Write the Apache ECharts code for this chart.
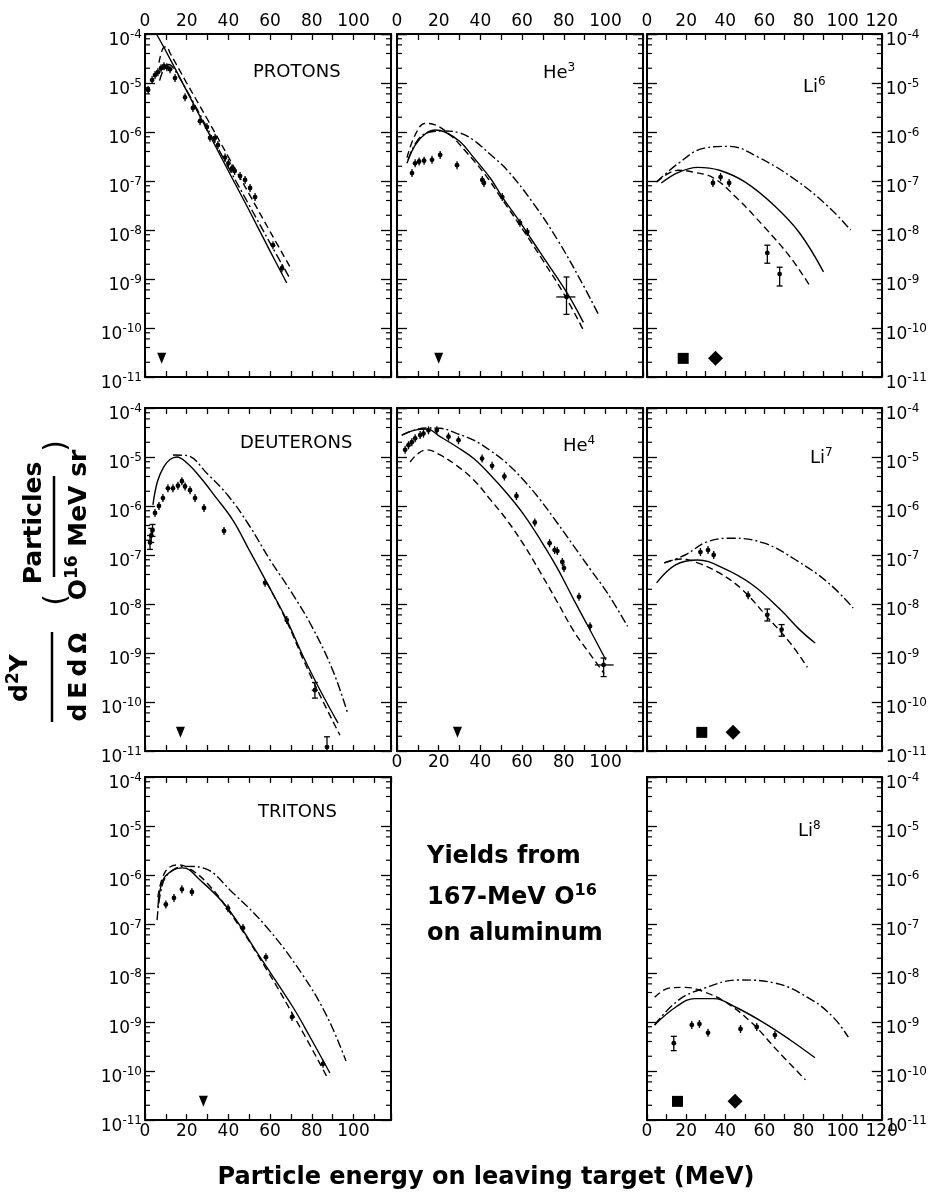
<!DOCTYPE html>
<html>
<head>
<meta charset="utf-8">
<title>Yields from 167-MeV O16 on aluminum</title>
<script src="https://cdn.jsdelivr.net/npm/echarts@6.0.0/dist/echarts.min.js"></script>
<style>
  html, body { margin: 0; padding: 0; background: #fff; }
  #chart { width: 930px; height: 1194px; }
</style>
</head>
<body>
<div id="chart"></div>
<script>
// values: [energy MeV, d2Y/dEdO]
// points may carry [E, y, yLow, yHigh, eLow, eHigh] when the bars are readable

var protonsSolid = [[5.5, 1.0e-4], [10, 4.5e-5], [20, 6.9e-6], [30, 1.05e-6], [40, 1.6e-7], [50, 2.5e-8], [60, 3.7e-9], [68, 8.3e-10]]
var protonsDashed = [[6.7, 2.6e-5], [8.6, 5.1e-5], [10.3, 5.5e-5], [12, 4.1e-5], [20, 1.0e-5], [30, 1.8e-6], [40, 3.1e-7], [50, 5.4e-8], [60, 9.3e-9], [70.5, 1.5e-9]]
var protonsDashDot = [[7, 1.12e-5], [9, 1.9e-5], [11.5, 2.4e-5], [14, 1.9e-5], [20, 7.1e-6], [30, 1.17e-6], [40, 1.9e-7], [50, 3.2e-8], [60, 5.4e-9], [69, 1.12e-9]]
var protonsPoints = [[1.5, 7.2e-6], [3.4, 1.15e-5], [4.8, 1.45e-5], [6.2, 1.66e-5], [7.7, 2.0e-5], [9.1, 2.2e-5], [10.5, 2.1e-5], [12, 1.9e-5], [14.4, 1.26e-5], [19.2, 5.1e-6], [23, 3.1e-6], [26.4, 1.66e-6], [29.7, 1.26e-6], [31.2, 7.6e-7], [33.6, 7.6e-7], [35, 5.4e-7], [38.4, 3.0e-7], [40, 2.3e-7], [41.7, 1.8e-7], [43, 1.6e-7], [45.6, 1.26e-7], [48, 1.05e-7], [50.4, 7.2e-8], [52.8, 4.7e-8], [61.4, 4.9e-9], [65.7, 1.66e-9]]
var protonsMarks = [[8, 2.4e-11, 'tri']]

var he3Solid = [[4.8, 2.3e-7], [8.7, 5.4e-7], [13.5, 9.1e-7], [18.3, 1.1e-6], [23, 1.0e-6], [30.3, 6.3e-7], [36.5, 3.1e-7], [44.7, 1.15e-7], [50.5, 4.7e-8], [59, 1.45e-8], [68.8, 3.4e-9], [81.7, 5.1e-10], [89.4, 1.3e-10]]
var he3Dashed = [[4.8, 3.0e-7], [8.7, 8.7e-7], [13.5, 1.5e-6], [18.3, 1.4e-6], [25.5, 8.7e-7], [33, 4.0e-7], [42, 1.4e-7], [50, 4.5e-8], [60, 1.07e-8], [70, 2.4e-9], [80, 5.0e-10], [89.4, 9.1e-11]]
var he3DashDot = [[5.3, 2.7e-7], [10, 6.9e-7], [15.9, 1.0e-6], [23, 1.05e-6], [30.3, 9.5e-7], [36.5, 6.9e-7], [44.7, 3.5e-7], [52.9, 1.66e-7], [65.4, 3.5e-8], [77, 6.3e-9], [88, 9.5e-10], [96.6, 1.9e-10]]
var he3Points = [[7.2, 1.45e-7], [8.7, 2.3e-7], [10.6, 2.5e-7], [13, 2.6e-7], [16.8, 2.7e-7], [20.7, 3.4e-7], [28.8, 2.1e-7], [40.9, 1.05e-7], [41.7, 9.1e-8], [50.5, 4.7e-8], [59, 1.4e-8], [62.5, 9.1e-9], [81.3, 4.3e-10, 1.9e-10, 1.1e-9, 76.4, 85.6]]
var he3Marks = [[20, 2.4e-11, 'tri']]

var li6Solid = [[7.3, 9.1e-8], [16.1, 1.5e-7], [25.9, 1.9e-7], [37, 1.66e-7], [50.2, 9.5e-8], [64.9, 3.2e-8], [78, 8.7e-9], [90.2, 1.4e-9]]
var li6Dashed = [[4.9, 9.5e-8], [16.1, 1.66e-7], [24.4, 1.5e-7], [34.1, 1.15e-7], [45.4, 4.7e-8], [60, 1.15e-8], [73.2, 2.8e-9], [82.9, 7.6e-10]]
var li6DashDot = [[4.9, 9.5e-8], [16.1, 2.3e-7], [29.3, 4.7e-7], [42, 5.1e-7], [56.6, 3.1e-7], [76, 1.05e-7], [92.7, 3.0e-8], [104, 1.0e-8]]
var li6Points = [[33.7, 9.1e-8], [37.6, 1.2e-7], [42, 9.1e-8], [61.5, 3.4e-9, 2.1e-9, 4.9e-9], [67.8, 1.26e-9, 7.2e-10, 1.74e-9]]
var li6Marks = [[18.5, 2.4e-11, 'sq'], [35, 2.4e-11, 'dia']]

var deutSolid = [[3.8, 1.05e-6], [6, 3.2e-6], [9, 6.3e-6], [12, 8.9e-6], [15.3, 1.0e-5], [20, 7.6e-6], [26.4, 3.9e-6], [34, 1.5e-6], [42.2, 5.1e-7], [50, 1.26e-7], [58.5, 2.7e-8], [68, 4.7e-9], [76, 8.3e-10], [84, 1.74e-10], [92.6, 3.7e-11]]
var deutDashed = [[58.5, 2.7e-8], [68, 4.4e-9], [76, 7.2e-10], [84, 1.35e-10], [93.5, 2.1e-11]]
var deutDashDot = [[13.4, 1.1e-5], [20, 1.07e-5], [30, 4.5e-6], [40, 1.6e-6], [50, 4.0e-7], [60, 7.9e-8], [70, 1.8e-8], [80, 3.5e-9], [90, 4.5e-10], [97, 6.3e-11]]
var deutPoints = [[2.4, 1.8e-7, 1.3e-7, 2.5e-7], [3.0, 2.5e-7, 1.8e-7, 3.5e-7], [3.6, 3.2e-7, 2.4e-7, 4.2e-7], [4.8, 7.2e-7], [6.7, 1.0e-6], [8.6, 1.45e-6], [11, 2.3e-6], [13.4, 2.3e-6], [15.8, 2.6e-6], [17.7, 3.2e-6], [19.2, 2.5e-6], [21.6, 2.1e-6], [24, 1.45e-6], [28.3, 9.1e-7], [37.9, 3.1e-7], [57.6, 2.7e-8], [68, 4.7e-9], [81.5, 1.74e-10, 1.2e-10, 2.5e-10, 80, 83], [87.3, 1.2e-11, 1.0e-11, 1.95e-11]]
var deutMarks = [[17, 2.4e-11, 'tri']]

var he4Solid = [[2.4, 2.8e-5], [8, 3.5e-5], [14.4, 3.7e-5], [20.7, 2.6e-5], [28.8, 1.6e-5], [36.8, 9.3e-6], [44.8, 4.3e-6], [52.8, 1.8e-6], [60.9, 6.6e-7], [68.9, 2.0e-7], [76.9, 5.4e-8], [84.9, 1.2e-8], [92.6, 2.95e-9], [100.2, 7.2e-10]]
var he4Dashed = [[6.3, 7.9e-6], [10, 1.17e-5], [14.4, 1.4e-5], [20.7, 1.1e-5], [28.8, 6.6e-6], [36.8, 3.4e-6], [44.8, 1.35e-6], [52.8, 5.1e-7], [60.9, 1.6e-7], [68.9, 4.3e-8], [76.9, 1.1e-8], [84.9, 2.75e-9], [92.6, 9.5e-10], [99.4, 3.8e-10]]
var he4DashDot = [[2.2, 2.8e-5], [8, 3.5e-5], [14, 3.9e-5], [20.7, 3.85e-5], [28.8, 3.0e-5], [36.8, 2.2e-5], [44.8, 1.35e-5], [52.8, 7.4e-6], [60.9, 3.3e-6], [68.9, 1.3e-6], [76.9, 4.5e-7], [84.9, 1.5e-7], [92.9, 5.0e-8], [101, 1.66e-8], [110.6, 3.5e-9]]
var he4Points = [[3.9, 1.4e-5], [5.5, 1.74e-5], [7.1, 2.0e-5], [8.7, 2.4e-5], [11.1, 2.8e-5], [12.7, 3.0e-5], [15.1, 3.5e-5], [19.1, 3.5e-5], [24.7, 2.6e-5], [29.5, 2.2e-5], [40.8, 9.3e-6], [45.6, 6.6e-6], [51.5, 4.0e-6], [57.3, 1.6e-6], [66.1, 4.6e-7], [73.2, 1.74e-7], [75.6, 1.26e-7], [76.9, 1.2e-7], [79.3, 7.2e-8], [80.1, 5.4e-8], [87.3, 1.4e-8], [92.6, 3.5e-9], [99.1, 5.7e-10, 3.3e-10, 7.9e-10, 94.9, 103.9]]
var he4Marks = [[29, 2.4e-11, 'tri']]

var li7Solid = [[4.9, 2.7e-8], [14.6, 6.3e-8], [25.9, 7.9e-8], [39, 5.4e-8], [53.7, 2.5e-8], [68.3, 7.6e-9], [78, 3.0e-9], [85.9, 1.6e-9]]
var li7Dashed = [[8.8, 6.9e-8], [17.6, 8.3e-8], [25.9, 6.9e-8], [37, 4.3e-8], [48.8, 1.95e-8], [61.5, 5.4e-9], [73.2, 1.6e-9], [82, 5.1e-10]]
var li7DashDot = [[8.8, 6.9e-8], [19.5, 1.0e-7], [30.7, 1.86e-7], [43.9, 2.2e-7], [60, 1.74e-7], [76.1, 7.9e-8], [92.7, 2.7e-8], [105.4, 8.3e-9]]
var li7Points = [[27.3, 1.15e-7], [31.2, 1.26e-7], [34.1, 1.0e-7], [51.7, 1.5e-8], [61.5, 6.0e-9, 4.5e-9, 7.9e-9], [68.8, 3.0e-9, 2.2e-9, 3.8e-9]]
var li7Marks = [[28, 2.4e-11, 'sq'], [44, 2.4e-11, 'dia']]

var tritSolid = [[6.2, 2.2e-7], [8.6, 7.9e-7], [13.4, 1.26e-6], [18.2, 1.4e-6], [26.4, 7.9e-7], [39.3, 2.2e-7], [55.2, 2.1e-8], [71, 2.0e-9], [79.1, 5.0e-10], [88.7, 9.1e-11]]
var tritDashed = [[6.2, 3.5e-7], [9.6, 1.15e-6], [15.3, 1.6e-6], [20.1, 1.45e-6], [29.7, 6.9e-7], [42.2, 1.4e-7], [58.5, 1.15e-8], [74.3, 7.9e-10], [87.3, 7.6e-11]]
var tritDashDot = [[5.8, 1.2e-7], [8.6, 6.9e-7], [13.4, 1.26e-6], [20.1, 1.5e-6], [27.8, 1.4e-6], [42.2, 4.3e-7], [58.5, 8.5e-8], [75, 1.0e-8], [87.3, 1.3e-9], [96.4, 1.6e-10]]
var tritPoints = [[10, 2.5e-7], [13.9, 3.4e-7], [17.7, 5.1e-7], [22.5, 4.5e-7], [39.8, 2.1e-7], [47, 8.3e-8], [58, 2.1e-8], [70.5, 1.26e-9], [85.4, 1.4e-10]]
var tritMarks = [[28, 2.4e-11, 'tri']]

var li8Solid = [[3.9, 8.7e-10], [14.6, 2.0e-9], [24.4, 3.0e-9], [34.1, 3.0e-9], [45.4, 2.0e-9], [60, 9.5e-10], [73.2, 4.3e-10], [85.9, 1.86e-10]]
var li8Dashed = [[3.9, 3.2e-9], [11.2, 4.9e-9], [19.5, 5.1e-9], [29.3, 4.1e-9], [40.5, 2.5e-9], [53.7, 9.5e-10], [66.3, 2.7e-10], [81, 6.6e-11]]
var li8DashDot = [[3.9, 8.7e-10], [16.1, 2.8e-9], [29.3, 4.9e-9], [46.8, 7.2e-9], [64.9, 6.3e-9], [84.4, 2.8e-9], [95.6, 1.2e-9], [102.9, 4.9e-10]]
var li8Points = [[13.7, 3.7e-10, 2.6e-10, 5.1e-10], [22.9, 8.7e-10], [26.8, 9.1e-10], [31.2, 6.0e-10], [47.8, 7.2e-10], [56.1, 7.9e-10], [65.4, 5.4e-10]]
var li8Marks = [[15.6, 2.4e-11, 'sq'], [45, 2.4e-11, 'dia']]

// layout
var FONT = 'DejaVu Sans'
var colLeft = [145, 397, 647]
var rowTop = [34, 408, 777]
var PW = 246
var PH = 343

var panels = [
  { label: 'PROTONS', col: 0, row: 0, lx: 253, ly: 72, xLab: 'top', solid: protonsSolid, dashed: protonsDashed, dashDot: protonsDashDot, points: protonsPoints, marks: protonsMarks },
  { label: '{b|He}{s|3}', col: 1, row: 0, lx: 543, ly: 72, xLab: 'top', solid: he3Solid, dashed: he3Dashed, dashDot: he3DashDot, points: he3Points, marks: he3Marks },
  { label: '{b|Li}{s|6}', col: 2, row: 0, lx: 803, ly: 86, xLab: 'top', solid: li6Solid, dashed: li6Dashed, dashDot: li6DashDot, points: li6Points, marks: li6Marks },
  { label: 'DEUTERONS', col: 0, row: 1, lx: 240, ly: 443, xLab: null, solid: deutSolid, dashed: deutDashed, dashDot: deutDashDot, points: deutPoints, marks: deutMarks },
  { label: '{b|He}{s|4}', col: 1, row: 1, lx: 563, ly: 445, xLab: 'bottom', solid: he4Solid, dashed: he4Dashed, dashDot: he4DashDot, points: he4Points, marks: he4Marks },
  { label: '{b|Li}{s|7}', col: 2, row: 1, lx: 810, ly: 457, xLab: null, solid: li7Solid, dashed: li7Dashed, dashDot: li7DashDot, points: li7Points, marks: li7Marks },
  { label: 'TRITONS', col: 0, row: 2, lx: 258, ly: 812, xLab: 'bottom', solid: tritSolid, dashed: tritDashed, dashDot: tritDashDot, points: tritPoints, marks: tritMarks },
  { label: '{b|Li}{s|8}', col: 2, row: 2, lx: 798, ly: 830, xLab: 'bottom', solid: li8Solid, dashed: li8Dashed, dashDot: li8DashDot, points: li8Points, marks: li8Marks }
]

// minor ticks of the log axis at 2, 4, 6, 8 per decade
var minorTickValues = []
for (var n = -11; n < -4; n++) {
  [2, 4, 6, 8].forEach(function (k) { minorTickValues.push(k * Math.pow(10, n)) })
}

var markStyle = {
  tri: { symbol: 'triangle', size: [9, 11], rotate: 180 },
  sq: { symbol: 'rect', size: [11, 11], rotate: 0 },
  dia: { symbol: 'diamond', size: [15, 15], rotate: 0 }
}

function supRich (size, weight) {
  return {
    b: { fontSize: size, fontWeight: weight, fontFamily: FONT, fill: '#000', color: '#000', verticalAlign: 'bottom' },
    s: { fontSize: Math.round(size * 0.68), fontWeight: weight, fontFamily: FONT, fill: '#000', color: '#000', verticalAlign: 'top', padding: [0, 0, Math.round(size * 0.45), 0] }
  }
}

function powLabel (v) {
  return '{b|10}{s|' + Math.round(Math.log(v) / Math.LN10) + '}'
}

function minorTickItem (params, api) {
  var y = api.coord([0, api.value(1)])[1]
  var L = params.coordSys.x
  var R = L + params.coordSys.width
  var st = { stroke: '#000', lineWidth: 1.2 }
  return {
    type: 'group',
    children: [
      { type: 'line', shape: { x1: L, y1: y, x2: L + 5, y2: y }, style: st },
      { type: 'line', shape: { x1: R - 5, y1: y, x2: R, y2: y }, style: st }
    ]
  }
}

function pointItem (params, api) {
  var e = api.value(0)
  var v = api.value(1)
  var lo = api.value(2)
  var hi = api.value(3)
  var eLo = api.value(4)
  var eHi = api.value(5)
  var c = api.coord([e, v])
  var st = { stroke: '#000', lineWidth: 1.3 }
  var y1 = lo > 0 ? api.coord([e, lo])[1] : c[1] + 4
  var y2 = hi > 0 ? api.coord([e, hi])[1] : c[1] - 4
  var kids = [
    { type: 'line', shape: { x1: c[0], y1: y1, x2: c[0], y2: y2 }, style: st },
    { type: 'circle', shape: { cx: c[0], cy: c[1], r: 2.4 }, style: { fill: '#000' } }
  ]
  if (lo > 0) {
    kids.push({ type: 'line', shape: { x1: c[0] - 3, y1: y1, x2: c[0] + 3, y2: y1 }, style: st })
    kids.push({ type: 'line', shape: { x1: c[0] - 3, y1: y2, x2: c[0] + 3, y2: y2 }, style: st })
  }
  if (eLo > 0) {
    var xa = api.coord([eLo, v])[0]
    var xb = api.coord([eHi, v])[0]
    kids.push({ type: 'line', shape: { x1: xa, y1: c[1], x2: xb, y2: c[1] }, style: st })
  }
  return { type: 'group', children: kids }
}

function pad6 (p) {
  return [p[0], p[1], p[2] || 0, p[3] || 0, p[4] || 0, p[5] || 0]
}

var grids = []
var xAxes = []
var yAxes = []
var series = []

panels.forEach(function (p, i) {
  var xMax = p.col === 2 ? 120 : 118
  var yLab = p.col === 0 ? 'left' : (p.col === 2 ? 'right' : null)
  grids.push({ left: colLeft[p.col], top: rowTop[p.row], width: PW, height: PH })

  ;['bottom', 'top'].forEach(function (pos) {
    xAxes.push({
      type: 'value',
      gridIndex: i,
      position: pos,
      min: 0,
      max: xMax,
      interval: 10,
      axisLine: { onZero: false, lineStyle: { color: '#000', width: 2 } },
      axisTick: { inside: true, length: 6, lineStyle: { color: '#000', width: 1.3 } },
      splitLine: { show: false },
      axisLabel: {
        show: p.xLab === pos,
        margin: pos === 'top' ? 4 : 3,
        color: '#000',
        fontSize: 17,
        fontFamily: FONT,
        showMinLabel: true,
        showMaxLabel: true,
        formatter: function (v) { return v % 20 === 0 ? String(v) : '' }
      }
    })
  })

  ;['left', 'right'].forEach(function (pos) {
    yAxes.push({
      type: 'log',
      logBase: 10,
      gridIndex: i,
      position: pos,
      min: 1e-11,
      max: 1e-4,
      axisLine: { onZero: false, lineStyle: { color: '#000', width: 2 } },
      axisTick: { inside: true, length: 10, lineStyle: { color: '#000', width: 1.3 } },
      minorTick: { show: false },
      splitLine: { show: false },
      axisLabel: {
        show: yLab === pos,
        margin: pos === 'left' ? 3 : 4,
        showMinLabel: true,
        showMaxLabel: true,
        padding: [10, 0, 0, 0],
        formatter: powLabel,
        rich: supRich(17, 'normal')
      }
    })
  })

  var xi = 2 * i
  var yi = 2 * i
  ;[[p.solid, 'solid'], [p.dashed, [7, 4]], [p.dashDot, [9, 3, 2, 3]]].forEach(function (c) {
    series.push({
      type: 'line',
      xAxisIndex: xi,
      yAxisIndex: yi,
      data: c[0],
      showSymbol: false,
      smooth: 0.4,
      silent: true,
      lineStyle: { color: '#000', width: 1.4, type: c[1] }
    })
  })

  series.push({
    type: 'custom',
    xAxisIndex: xi,
    yAxisIndex: yi,
    data: p.points.map(pad6),
    encode: { x: 0, y: 1 },
    renderItem: pointItem,
    silent: true
  })

  series.push({
    type: 'scatter',
    xAxisIndex: xi,
    yAxisIndex: yi,
    silent: true,
    itemStyle: { color: '#000', opacity: 1 },
    data: p.marks.map(function (m) {
      var s = markStyle[m[2]]
      return { value: [m[0], m[1]], symbol: s.symbol, symbolSize: s.size, symbolRotate: s.rotate }
    })
  })

  series.push({
    type: 'custom',
    xAxisIndex: xi,
    yAxisIndex: yi,
    data: minorTickValues.map(function (v) { return [0, v] }),
    encode: { x: 0, y: 1 },
    renderItem: minorTickItem,
    silent: true
  })
})

function textEl (x, y, text, size, weight, align, rot) {
  return {
    type: 'text',
    x: x,
    y: y,
    rotation: rot || 0,
    silent: true,
    style: {
      text: text,
      fontSize: size,
      fontWeight: weight,
      fontFamily: FONT,
      fill: '#000',
      align: align || 'left',
      verticalAlign: 'middle',
      rich: supRich(size, weight)
    }
  }
}

var R = Math.PI / 2
var graphic = panels.map(function (p) { return textEl(p.lx, p.ly, p.label, 18, 'normal') })
graphic.push(
  textEl(427, 857, 'Yields from', 24, 'bold'),
  textEl(427, 896, '{b|167-MeV O}{s|16}', 24, 'bold'),
  textEl(427, 934, 'on aluminum', 24, 'bold'),
  textEl(486, 1178, 'Particle energy on leaving target (MeV)', 24, 'bold', 'center'),
  textEl(19, 678, '{b|d}{s|2}{b|Y}', 25, 'bold', 'center', R),
  textEl(79, 677, 'd\u2009E\u2009d\u2009\u03A9', 25, 'bold', 'center', R),
  textEl(34, 523, 'Particles', 25, 'bold', 'center', R),
  textEl(78, 525, '{b|O}{s|16}{b| MeV sr}', 25, 'bold', 'center', R),
  textEl(57, 600, '(', 30, 'normal', 'center', R),
  textEl(57, 446, ')', 30, 'normal', 'center', R),
  { type: 'line', silent: true, shape: { x1: 52, y1: 632, x2: 52, y2: 722 }, style: { stroke: '#000', lineWidth: 2.5 } },
  { type: 'line', silent: true, shape: { x1: 54, y1: 476, x2: 54, y2: 577 }, style: { stroke: '#000', lineWidth: 2.5 } }
)

var option = {
  backgroundColor: '#fff',
  animation: false,
  grid: grids,
  xAxis: xAxes,
  yAxis: yAxes,
  series: series,
  graphic: graphic
}

var chart = echarts.init(document.getElementById('chart'), null, { renderer: 'canvas' })
chart.setOption(option)
</script>
</body>
</html>
